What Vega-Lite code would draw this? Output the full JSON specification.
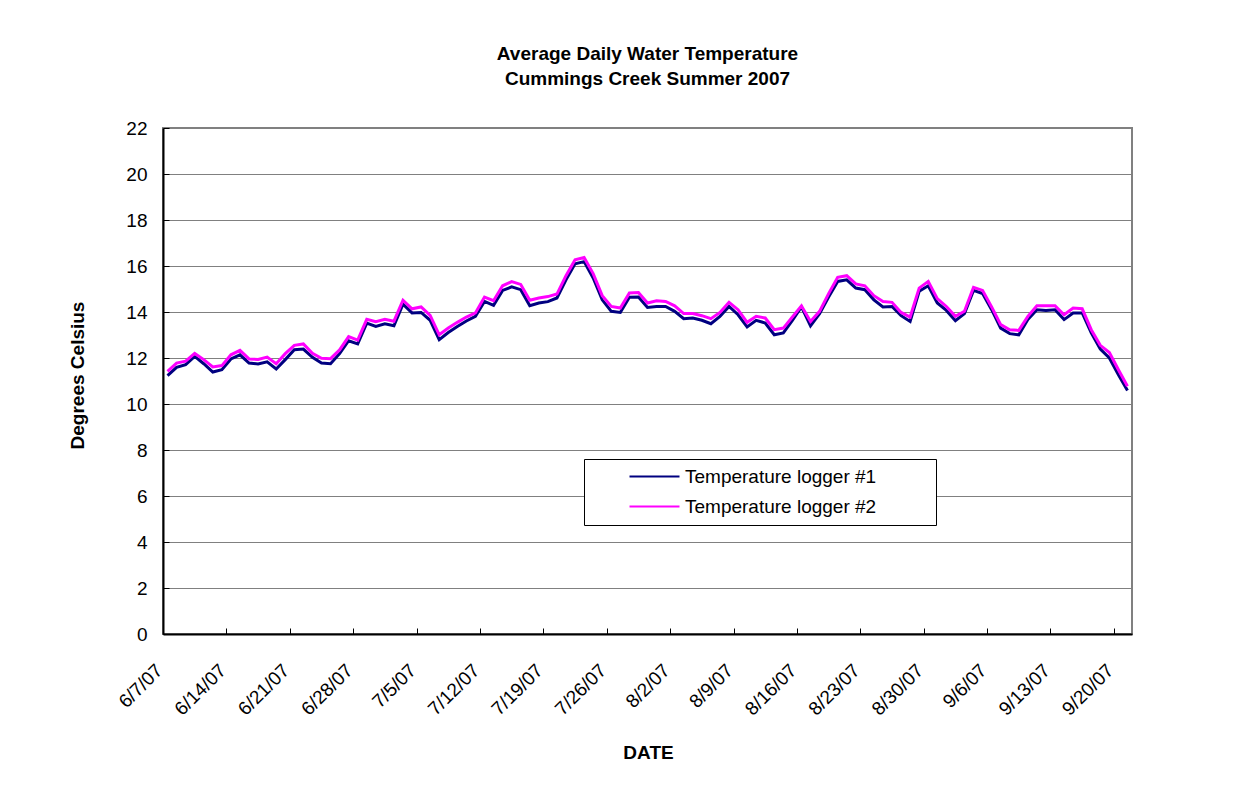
{
  "$schema": "https://vega.github.io/schema/vega-lite/v6.json",
  "width": 969,
  "height": 506,
  "autosize": {"type": "none"},
  "padding": {"left": 163, "top": 128, "right": 119, "bottom": 171},
  "background": "white",
  "config": {
    "font": "Liberation Sans",
    "view": {"stroke": "#808080", "strokeWidth": 2}
  },
  "title": {
    "text": ["Average Daily Water Temperature", "  Cummings Creek Summer 2007"],
    "font": "Liberation Sans",
    "fontSize": 19,
    "fontWeight": "bold",
    "color": "black",
    "anchor": "middle",
    "frame": "group",
    "baseline": "alphabetic",
    "lineHeight": 25,
    "offset": 15
  },
  "datasets": {
    "temps": [
      {"date": "2007-06-07", "series": "Temperature logger #1", "temp": 11.23},
      {"date": "2007-06-08", "series": "Temperature logger #1", "temp": 11.59},
      {"date": "2007-06-09", "series": "Temperature logger #1", "temp": 11.71},
      {"date": "2007-06-10", "series": "Temperature logger #1", "temp": 12.07},
      {"date": "2007-06-11", "series": "Temperature logger #1", "temp": 11.75},
      {"date": "2007-06-12", "series": "Temperature logger #1", "temp": 11.39},
      {"date": "2007-06-13", "series": "Temperature logger #1", "temp": 11.49},
      {"date": "2007-06-14", "series": "Temperature logger #1", "temp": 11.96},
      {"date": "2007-06-15", "series": "Temperature logger #1", "temp": 12.14},
      {"date": "2007-06-16", "series": "Temperature logger #1", "temp": 11.78},
      {"date": "2007-06-17", "series": "Temperature logger #1", "temp": 11.74},
      {"date": "2007-06-18", "series": "Temperature logger #1", "temp": 11.83},
      {"date": "2007-06-19", "series": "Temperature logger #1", "temp": 11.52},
      {"date": "2007-06-20", "series": "Temperature logger #1", "temp": 11.93},
      {"date": "2007-06-21", "series": "Temperature logger #1", "temp": 12.36},
      {"date": "2007-06-22", "series": "Temperature logger #1", "temp": 12.39},
      {"date": "2007-06-23", "series": "Temperature logger #1", "temp": 12.03},
      {"date": "2007-06-24", "series": "Temperature logger #1", "temp": 11.78},
      {"date": "2007-06-25", "series": "Temperature logger #1", "temp": 11.75},
      {"date": "2007-06-26", "series": "Temperature logger #1", "temp": 12.19},
      {"date": "2007-06-27", "series": "Temperature logger #1", "temp": 12.75},
      {"date": "2007-06-28", "series": "Temperature logger #1", "temp": 12.61},
      {"date": "2007-06-29", "series": "Temperature logger #1", "temp": 13.52},
      {"date": "2007-06-30", "series": "Temperature logger #1", "temp": 13.37},
      {"date": "2007-07-01", "series": "Temperature logger #1", "temp": 13.49},
      {"date": "2007-07-02", "series": "Temperature logger #1", "temp": 13.40},
      {"date": "2007-07-03", "series": "Temperature logger #1", "temp": 14.34},
      {"date": "2007-07-04", "series": "Temperature logger #1", "temp": 13.96},
      {"date": "2007-07-05", "series": "Temperature logger #1", "temp": 13.98},
      {"date": "2007-07-06", "series": "Temperature logger #1", "temp": 13.64},
      {"date": "2007-07-07", "series": "Temperature logger #1", "temp": 12.80},
      {"date": "2007-07-08", "series": "Temperature logger #1", "temp": 13.11},
      {"date": "2007-07-09", "series": "Temperature logger #1", "temp": 13.37},
      {"date": "2007-07-10", "series": "Temperature logger #1", "temp": 13.61},
      {"date": "2007-07-11", "series": "Temperature logger #1", "temp": 13.81},
      {"date": "2007-07-12", "series": "Temperature logger #1", "temp": 14.46},
      {"date": "2007-07-13", "series": "Temperature logger #1", "temp": 14.29},
      {"date": "2007-07-14", "series": "Temperature logger #1", "temp": 14.94},
      {"date": "2007-07-15", "series": "Temperature logger #1", "temp": 15.09},
      {"date": "2007-07-16", "series": "Temperature logger #1", "temp": 14.97},
      {"date": "2007-07-17", "series": "Temperature logger #1", "temp": 14.27},
      {"date": "2007-07-18", "series": "Temperature logger #1", "temp": 14.39},
      {"date": "2007-07-19", "series": "Temperature logger #1", "temp": 14.45},
      {"date": "2007-07-20", "series": "Temperature logger #1", "temp": 14.61},
      {"date": "2007-07-21", "series": "Temperature logger #1", "temp": 15.40},
      {"date": "2007-07-22", "series": "Temperature logger #1", "temp": 16.10},
      {"date": "2007-07-23", "series": "Temperature logger #1", "temp": 16.19},
      {"date": "2007-07-24", "series": "Temperature logger #1", "temp": 15.48},
      {"date": "2007-07-25", "series": "Temperature logger #1", "temp": 14.53},
      {"date": "2007-07-26", "series": "Temperature logger #1", "temp": 14.03},
      {"date": "2007-07-27", "series": "Temperature logger #1", "temp": 13.98},
      {"date": "2007-07-28", "series": "Temperature logger #1", "temp": 14.64},
      {"date": "2007-07-29", "series": "Temperature logger #1", "temp": 14.65},
      {"date": "2007-07-30", "series": "Temperature logger #1", "temp": 14.20},
      {"date": "2007-07-31", "series": "Temperature logger #1", "temp": 14.24},
      {"date": "2007-08-01", "series": "Temperature logger #1", "temp": 14.24},
      {"date": "2007-08-02", "series": "Temperature logger #1", "temp": 14.03},
      {"date": "2007-08-03", "series": "Temperature logger #1", "temp": 13.71},
      {"date": "2007-08-04", "series": "Temperature logger #1", "temp": 13.74},
      {"date": "2007-08-05", "series": "Temperature logger #1", "temp": 13.64},
      {"date": "2007-08-06", "series": "Temperature logger #1", "temp": 13.49},
      {"date": "2007-08-07", "series": "Temperature logger #1", "temp": 13.81},
      {"date": "2007-08-08", "series": "Temperature logger #1", "temp": 14.24},
      {"date": "2007-08-09", "series": "Temperature logger #1", "temp": 13.88},
      {"date": "2007-08-10", "series": "Temperature logger #1", "temp": 13.35},
      {"date": "2007-08-11", "series": "Temperature logger #1", "temp": 13.64},
      {"date": "2007-08-12", "series": "Temperature logger #1", "temp": 13.52},
      {"date": "2007-08-13", "series": "Temperature logger #1", "temp": 13.01},
      {"date": "2007-08-14", "series": "Temperature logger #1", "temp": 13.09},
      {"date": "2007-08-15", "series": "Temperature logger #1", "temp": 13.64},
      {"date": "2007-08-16", "series": "Temperature logger #1", "temp": 14.22},
      {"date": "2007-08-17", "series": "Temperature logger #1", "temp": 13.40},
      {"date": "2007-08-18", "series": "Temperature logger #1", "temp": 13.93},
      {"date": "2007-08-19", "series": "Temperature logger #1", "temp": 14.65},
      {"date": "2007-08-20", "series": "Temperature logger #1", "temp": 15.33},
      {"date": "2007-08-21", "series": "Temperature logger #1", "temp": 15.40},
      {"date": "2007-08-22", "series": "Temperature logger #1", "temp": 15.04},
      {"date": "2007-08-23", "series": "Temperature logger #1", "temp": 14.97},
      {"date": "2007-08-24", "series": "Temperature logger #1", "temp": 14.53},
      {"date": "2007-08-25", "series": "Temperature logger #1", "temp": 14.22},
      {"date": "2007-08-26", "series": "Temperature logger #1", "temp": 14.24},
      {"date": "2007-08-27", "series": "Temperature logger #1", "temp": 13.84},
      {"date": "2007-08-28", "series": "Temperature logger #1", "temp": 13.59},
      {"date": "2007-08-29", "series": "Temperature logger #1", "temp": 14.90},
      {"date": "2007-08-30", "series": "Temperature logger #1", "temp": 15.14},
      {"date": "2007-08-31", "series": "Temperature logger #1", "temp": 14.39},
      {"date": "2007-09-01", "series": "Temperature logger #1", "temp": 14.07},
      {"date": "2007-09-02", "series": "Temperature logger #1", "temp": 13.62},
      {"date": "2007-09-03", "series": "Temperature logger #1", "temp": 13.93},
      {"date": "2007-09-04", "series": "Temperature logger #1", "temp": 14.94},
      {"date": "2007-09-05", "series": "Temperature logger #1", "temp": 14.80},
      {"date": "2007-09-06", "series": "Temperature logger #1", "temp": 14.10},
      {"date": "2007-09-07", "series": "Temperature logger #1", "temp": 13.30},
      {"date": "2007-09-08", "series": "Temperature logger #1", "temp": 13.06},
      {"date": "2007-09-09", "series": "Temperature logger #1", "temp": 13.01},
      {"date": "2007-09-10", "series": "Temperature logger #1", "temp": 13.67},
      {"date": "2007-09-11", "series": "Temperature logger #1", "temp": 14.10},
      {"date": "2007-09-12", "series": "Temperature logger #1", "temp": 14.07},
      {"date": "2007-09-13", "series": "Temperature logger #1", "temp": 14.10},
      {"date": "2007-09-14", "series": "Temperature logger #1", "temp": 13.67},
      {"date": "2007-09-15", "series": "Temperature logger #1", "temp": 13.96},
      {"date": "2007-09-16", "series": "Temperature logger #1", "temp": 13.96},
      {"date": "2007-09-17", "series": "Temperature logger #1", "temp": 13.09},
      {"date": "2007-09-18", "series": "Temperature logger #1", "temp": 12.39},
      {"date": "2007-09-19", "series": "Temperature logger #1", "temp": 12.00},
      {"date": "2007-09-20", "series": "Temperature logger #1", "temp": 11.27},
      {"date": "2007-09-21", "series": "Temperature logger #1", "temp": 10.59},
      {"date": "2007-06-07", "series": "Temperature logger #2", "temp": 11.42},
      {"date": "2007-06-08", "series": "Temperature logger #2", "temp": 11.78},
      {"date": "2007-06-09", "series": "Temperature logger #2", "temp": 11.86},
      {"date": "2007-06-10", "series": "Temperature logger #2", "temp": 12.20},
      {"date": "2007-06-11", "series": "Temperature logger #2", "temp": 11.93},
      {"date": "2007-06-12", "series": "Temperature logger #2", "temp": 11.61},
      {"date": "2007-06-13", "series": "Temperature logger #2", "temp": 11.67},
      {"date": "2007-06-14", "series": "Temperature logger #2", "temp": 12.14},
      {"date": "2007-06-15", "series": "Temperature logger #2", "temp": 12.33},
      {"date": "2007-06-16", "series": "Temperature logger #2", "temp": 11.96},
      {"date": "2007-06-17", "series": "Temperature logger #2", "temp": 11.94},
      {"date": "2007-06-18", "series": "Temperature logger #2", "temp": 12.04},
      {"date": "2007-06-19", "series": "Temperature logger #2", "temp": 11.75},
      {"date": "2007-06-20", "series": "Temperature logger #2", "temp": 12.19},
      {"date": "2007-06-21", "series": "Temperature logger #2", "temp": 12.55},
      {"date": "2007-06-22", "series": "Temperature logger #2", "temp": 12.61},
      {"date": "2007-06-23", "series": "Temperature logger #2", "temp": 12.20},
      {"date": "2007-06-24", "series": "Temperature logger #2", "temp": 11.99},
      {"date": "2007-06-25", "series": "Temperature logger #2", "temp": 11.97},
      {"date": "2007-06-26", "series": "Temperature logger #2", "temp": 12.35},
      {"date": "2007-06-27", "series": "Temperature logger #2", "temp": 12.93},
      {"date": "2007-06-28", "series": "Temperature logger #2", "temp": 12.78},
      {"date": "2007-06-29", "series": "Temperature logger #2", "temp": 13.68},
      {"date": "2007-06-30", "series": "Temperature logger #2", "temp": 13.58},
      {"date": "2007-07-01", "series": "Temperature logger #2", "temp": 13.68},
      {"date": "2007-07-02", "series": "Temperature logger #2", "temp": 13.60},
      {"date": "2007-07-03", "series": "Temperature logger #2", "temp": 14.51},
      {"date": "2007-07-04", "series": "Temperature logger #2", "temp": 14.14},
      {"date": "2007-07-05", "series": "Temperature logger #2", "temp": 14.22},
      {"date": "2007-07-06", "series": "Temperature logger #2", "temp": 13.85},
      {"date": "2007-07-07", "series": "Temperature logger #2", "temp": 13.01},
      {"date": "2007-07-08", "series": "Temperature logger #2", "temp": 13.30},
      {"date": "2007-07-09", "series": "Temperature logger #2", "temp": 13.55},
      {"date": "2007-07-10", "series": "Temperature logger #2", "temp": 13.78},
      {"date": "2007-07-11", "series": "Temperature logger #2", "temp": 13.96},
      {"date": "2007-07-12", "series": "Temperature logger #2", "temp": 14.65},
      {"date": "2007-07-13", "series": "Temperature logger #2", "temp": 14.49},
      {"date": "2007-07-14", "series": "Temperature logger #2", "temp": 15.14},
      {"date": "2007-07-15", "series": "Temperature logger #2", "temp": 15.32},
      {"date": "2007-07-16", "series": "Temperature logger #2", "temp": 15.20},
      {"date": "2007-07-17", "series": "Temperature logger #2", "temp": 14.51},
      {"date": "2007-07-18", "series": "Temperature logger #2", "temp": 14.61},
      {"date": "2007-07-19", "series": "Temperature logger #2", "temp": 14.67},
      {"date": "2007-07-20", "series": "Temperature logger #2", "temp": 14.78},
      {"date": "2007-07-21", "series": "Temperature logger #2", "temp": 15.58},
      {"date": "2007-07-22", "series": "Temperature logger #2", "temp": 16.27},
      {"date": "2007-07-23", "series": "Temperature logger #2", "temp": 16.37},
      {"date": "2007-07-24", "series": "Temperature logger #2", "temp": 15.67},
      {"date": "2007-07-25", "series": "Temperature logger #2", "temp": 14.71},
      {"date": "2007-07-26", "series": "Temperature logger #2", "temp": 14.24},
      {"date": "2007-07-27", "series": "Temperature logger #2", "temp": 14.17},
      {"date": "2007-07-28", "series": "Temperature logger #2", "temp": 14.83},
      {"date": "2007-07-29", "series": "Temperature logger #2", "temp": 14.85},
      {"date": "2007-07-30", "series": "Temperature logger #2", "temp": 14.39},
      {"date": "2007-07-31", "series": "Temperature logger #2", "temp": 14.49},
      {"date": "2007-08-01", "series": "Temperature logger #2", "temp": 14.46},
      {"date": "2007-08-02", "series": "Temperature logger #2", "temp": 14.27},
      {"date": "2007-08-03", "series": "Temperature logger #2", "temp": 13.93},
      {"date": "2007-08-04", "series": "Temperature logger #2", "temp": 13.93},
      {"date": "2007-08-05", "series": "Temperature logger #2", "temp": 13.84},
      {"date": "2007-08-06", "series": "Temperature logger #2", "temp": 13.71},
      {"date": "2007-08-07", "series": "Temperature logger #2", "temp": 13.98},
      {"date": "2007-08-08", "series": "Temperature logger #2", "temp": 14.42},
      {"date": "2007-08-09", "series": "Temperature logger #2", "temp": 14.10},
      {"date": "2007-08-10", "series": "Temperature logger #2", "temp": 13.55},
      {"date": "2007-08-11", "series": "Temperature logger #2", "temp": 13.81},
      {"date": "2007-08-12", "series": "Temperature logger #2", "temp": 13.74},
      {"date": "2007-08-13", "series": "Temperature logger #2", "temp": 13.23},
      {"date": "2007-08-14", "series": "Temperature logger #2", "temp": 13.30},
      {"date": "2007-08-15", "series": "Temperature logger #2", "temp": 13.78},
      {"date": "2007-08-16", "series": "Temperature logger #2", "temp": 14.27},
      {"date": "2007-08-17", "series": "Temperature logger #2", "temp": 13.59},
      {"date": "2007-08-18", "series": "Temperature logger #2", "temp": 14.03},
      {"date": "2007-08-19", "series": "Temperature logger #2", "temp": 14.80},
      {"date": "2007-08-20", "series": "Temperature logger #2", "temp": 15.51},
      {"date": "2007-08-21", "series": "Temperature logger #2", "temp": 15.58},
      {"date": "2007-08-22", "series": "Temperature logger #2", "temp": 15.22},
      {"date": "2007-08-23", "series": "Temperature logger #2", "temp": 15.14},
      {"date": "2007-08-24", "series": "Temperature logger #2", "temp": 14.71},
      {"date": "2007-08-25", "series": "Temperature logger #2", "temp": 14.46},
      {"date": "2007-08-26", "series": "Temperature logger #2", "temp": 14.42},
      {"date": "2007-08-27", "series": "Temperature logger #2", "temp": 13.98},
      {"date": "2007-08-28", "series": "Temperature logger #2", "temp": 13.78},
      {"date": "2007-08-29", "series": "Temperature logger #2", "temp": 15.04},
      {"date": "2007-08-30", "series": "Temperature logger #2", "temp": 15.33},
      {"date": "2007-08-31", "series": "Temperature logger #2", "temp": 14.58},
      {"date": "2007-09-01", "series": "Temperature logger #2", "temp": 14.24},
      {"date": "2007-09-02", "series": "Temperature logger #2", "temp": 13.81},
      {"date": "2007-09-03", "series": "Temperature logger #2", "temp": 14.03},
      {"date": "2007-09-04", "series": "Temperature logger #2", "temp": 15.07},
      {"date": "2007-09-05", "series": "Temperature logger #2", "temp": 14.94},
      {"date": "2007-09-06", "series": "Temperature logger #2", "temp": 14.22},
      {"date": "2007-09-07", "series": "Temperature logger #2", "temp": 13.45},
      {"date": "2007-09-08", "series": "Temperature logger #2", "temp": 13.23},
      {"date": "2007-09-09", "series": "Temperature logger #2", "temp": 13.20},
      {"date": "2007-09-10", "series": "Temperature logger #2", "temp": 13.81},
      {"date": "2007-09-11", "series": "Temperature logger #2", "temp": 14.27},
      {"date": "2007-09-12", "series": "Temperature logger #2", "temp": 14.27},
      {"date": "2007-09-13", "series": "Temperature logger #2", "temp": 14.27},
      {"date": "2007-09-14", "series": "Temperature logger #2", "temp": 13.88},
      {"date": "2007-09-15", "series": "Temperature logger #2", "temp": 14.17},
      {"date": "2007-09-16", "series": "Temperature logger #2", "temp": 14.14},
      {"date": "2007-09-17", "series": "Temperature logger #2", "temp": 13.23},
      {"date": "2007-09-18", "series": "Temperature logger #2", "temp": 12.55},
      {"date": "2007-09-19", "series": "Temperature logger #2", "temp": 12.24},
      {"date": "2007-09-20", "series": "Temperature logger #2", "temp": 11.49},
      {"date": "2007-09-21", "series": "Temperature logger #2", "temp": 10.77}
    ]
  },
  "data": {"name": "temps"},
  "mark": {"type": "line", "strokeWidth": 3},
  "encoding": {
    "x": {
      "field": "date",
      "type": "temporal",
      "timeUnit": "utcyearmonthdate",
      "bandPosition": 0.5,
      "scale": {
        "type": "utc",
        "domain": [
          {"year": 2007, "month": 6, "date": 7, "utc": true},
          {"year": 2007, "month": 9, "date": 22, "utc": true}
        ]
      },
      "axis": {
        "title": "DATE",
        "titleFont": "Liberation Sans",
        "titleFontSize": 19,
        "titleFontWeight": "bold",
        "titleColor": "black",
        "titleBaseline": "alphabetic",
        "titleX": 485,
        "titleY": 124,
        "values": [
          {"year": 2007, "month": 6, "date": 7, "utc": true},
          {"year": 2007, "month": 6, "date": 14, "utc": true},
          {"year": 2007, "month": 6, "date": 21, "utc": true},
          {"year": 2007, "month": 6, "date": 28, "utc": true},
          {"year": 2007, "month": 7, "date": 5, "utc": true},
          {"year": 2007, "month": 7, "date": 12, "utc": true},
          {"year": 2007, "month": 7, "date": 19, "utc": true},
          {"year": 2007, "month": 7, "date": 26, "utc": true},
          {"year": 2007, "month": 8, "date": 2, "utc": true},
          {"year": 2007, "month": 8, "date": 9, "utc": true},
          {"year": 2007, "month": 8, "date": 16, "utc": true},
          {"year": 2007, "month": 8, "date": 23, "utc": true},
          {"year": 2007, "month": 8, "date": 30, "utc": true},
          {"year": 2007, "month": 9, "date": 6, "utc": true},
          {"year": 2007, "month": 9, "date": 13, "utc": true},
          {"year": 2007, "month": 9, "date": 20, "utc": true}
        ],
        "labelExpr": "utcFormat(datum.value, '%-m/%-d/%y')",
        "labelAngle": -45,
        "labelAlign": "right",
        "labelBaseline": "middle",
        "labelFont": "Liberation Sans",
        "labelFontSize": 19,
        "labelColor": "black",
        "labelPadding": 39,
        "labelOffset": -4,
        "labelFlush": false,
        "labelOverlap": false,
        "grid": false,
        "domainColor": "black",
        "domainWidth": 2,
        "tickColor": "black",
        "tickWidth": 1,
        "tickSize": -6
      }
    },
    "y": {
      "field": "temp",
      "type": "quantitative",
      "scale": {"domain": [0, 22], "nice": false, "zero": true},
      "axis": {
        "title": "Degrees Celsius",
        "titleFont": "Liberation Sans",
        "titleFontSize": 19,
        "titleFontWeight": "bold",
        "titleColor": "black",
        "titleBaseline": "alphabetic",
        "titleX": -80,
        "titleY": 247,
        "values": [0, 2, 4, 6, 8, 10, 12, 14, 16, 18, 20, 22],
        "labelFont": "Liberation Sans",
        "labelFontSize": 19,
        "labelColor": "black",
        "labelPadding": 22,
        "grid": true,
        "gridColor": "#808080",
        "gridWidth": 1,
        "domainColor": "black",
        "domainWidth": 2,
        "tickColor": "black",
        "tickWidth": 1,
        "tickSize": -6
      }
    },
    "color": {
      "field": "series",
      "type": "nominal",
      "scale": {
        "domain": ["Temperature logger #1", "Temperature logger #2"],
        "range": ["#000080", "#FF00FF"]
      },
      "legend": {
        "orient": "none",
        "legendX": 421,
        "legendY": 331,
        "title": " ",
        "titleOrient": "right",
        "titlePadding": 52,
        "titleFontSize": 19,
        "strokeColor": "black",
        "fillColor": "white",
        "padding": 8,
        "symbolType": "M-5,0H5",
        "symbolSize": 100,
        "symbolStrokeWidth": 2,
        "symbolOffset": 53,
        "labelOffset": 21,
        "labelFont": "Liberation Sans",
        "labelFontSize": 19,
        "labelColor": "black",
        "labelLimit": 400,
        "rowPadding": 10
      }
    }
  }
}
